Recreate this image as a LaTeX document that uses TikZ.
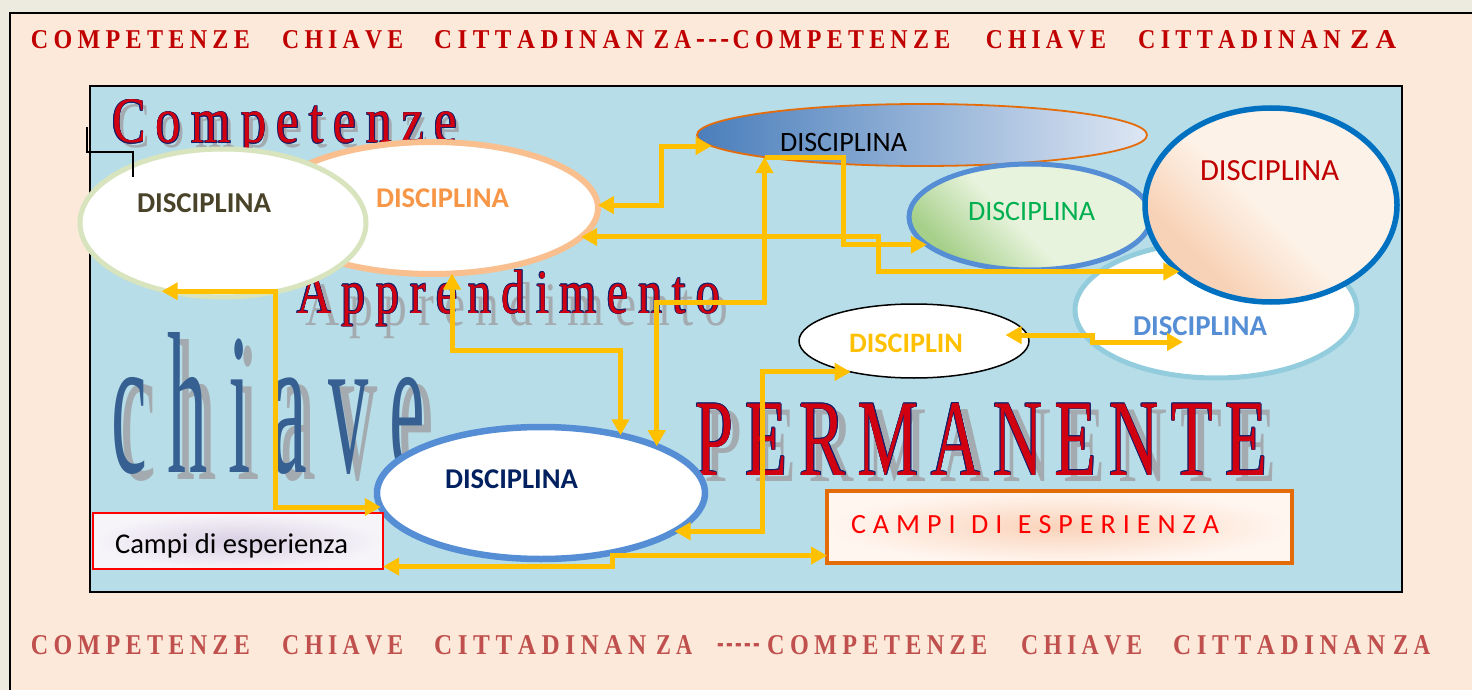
\documentclass[tikz,border=0pt]{standalone}
\usepackage{fontspec}
\usepackage{graphicx}
\usetikzlibrary{arrows.meta,shapes.geometric,calc}
\setmainfont{Liberation Serif}
\newfontfamily\timesf{Liberation Serif}
\newfontfamily\calibri{Carlito}
\definecolor{pagebg}{HTML}{EDEBE0}
\definecolor{peach}{HTML}{FCE9DA}
\definecolor{skyb}{HTML}{B7DDE8}
\definecolor{hdrred}{HTML}{C00000}
\definecolor{ftrred}{HTML}{C0504D}
\definecolor{navy}{HTML}{16206A}
\definecolor{wordred}{HTML}{D00010}
\definecolor{shadowgrey}{HTML}{A3ABB0}
\definecolor{chiaveblue}{HTML}{366092}
\definecolor{yel}{HTML}{FFC000}
\definecolor{Aborder}{HTML}{D7E4BD}
\definecolor{Bborder}{HTML}{F9BF8F}
\definecolor{Cborder}{HTML}{E46C0A}
\definecolor{Dborder}{HTML}{558ED5}
\definecolor{Eborder}{HTML}{0070C0}
\definecolor{Fborder}{HTML}{93CDDD}
\definecolor{Hborder}{HTML}{558ED5}
\definecolor{Atext}{HTML}{494429}
\definecolor{Btext}{HTML}{F79646}
\definecolor{Dtext}{HTML}{00B050}
\definecolor{Etext}{HTML}{C00000}
\definecolor{Ftext}{HTML}{558ED5}
\definecolor{Htext}{HTML}{002060}
\definecolor{brightred}{HTML}{FF0000}
\definecolor{orangeb}{HTML}{E36C09}
\definecolor{Cleft}{HTML}{4A7EBB}
\definecolor{Cmid}{HTML}{A0B6DA}
\definecolor{Cright}{HTML}{DDE6F3}
\definecolor{Dlight}{HTML}{E7F3DC}
\definecolor{Ddark}{HTML}{A6D08A}
\definecolor{Elight}{HTML}{FDF2E8}
\definecolor{Edark}{HTML}{F8D2B6}
\definecolor{Linner}{HTML}{D9D0E4}
\definecolor{Louter}{HTML}{F7F4F9}
\definecolor{Rinner}{HTML}{FAD3BA}
\definecolor{Router}{HTML}{FFF6F0}

\pgfdeclareverticalshading{Dshade}{100bp}{color(0bp)=(Ddark); color(26bp)=(Ddark); color(46bp)=(Dlight); color(100bp)=(Dlight)}
\pgfdeclareverticalshading{Eshade}{100bp}{color(0bp)=(Edark); color(30bp)=(Edark); color(48bp)=(Elight); color(100bp)=(Elight)}

\makeatletter
\newcommand\spreadword[2]{\def\sw@sep{}\@tfor\sw@c:=#2\do{\sw@sep\sw@c\def\sw@sep{\kern#1}}}
\makeatother
\newcommand\bigword[4]{\resizebox{#1}{#2}{\timesf\spreadword{#3}{#4}}}
\newcommand\outlinedword[7]{%
  \node[bigw,text=shadowgrey] (#1-shadow) at (#2+#4,#3+#5) {#6};
  \foreach \ang [count=\k] in {0,45,...,315}{
    \node[bigw,text=navy] (#1-edge\k) at ($(#2,#3)+(\ang:0.75pt)$) {#6};}
  \node[bigw,text=#7] (#1) at (#2,#3) {#6};
}
\newcommand\hdr[6]{\node[hw] (#1) at (#2,#3) {\resizebox{#4pt}{#5pt}{\timesf\bfseries\spreadword{0.22em}{#6}}};}

\tikzset{
  bigw/.style={anchor=base west, inner sep=0pt, outer sep=0pt},
  hw/.style={anchor=base west, inner sep=0pt, text=hdrred},
  ell/.style={ellipse, inner sep=0pt, outer sep=0pt},
  box/.style={rectangle, inner sep=0pt, outer sep=0pt},
  lbl/.style={anchor=base west, inner sep=0pt, outer sep=0pt},
  arrowline/.style={draw=yel, line width=5pt, line join=miter},
  twoway/.style={arrowline, arrows={Triangle[length=16pt,width=17pt]-Triangle[length=16pt,width=17pt]}},
  oneway/.style={arrowline, arrows={-Triangle[length=16pt,width=17pt]}},
}

\begin{document}
\begin{tikzpicture}[x=1pt,y=-1pt]
\useasboundingbox (0,0) rectangle (1472,690);
\clip (0,0) rectangle (1472,690);
\fill[pagebg] (0,0) rectangle (1472,690);
\draw[line width=2pt, fill=peach] (10,13) rectangle (1500,720);

% header line
\hdr{t1}{30.7}{49}{219}{18}{COMPETENZE}
\hdr{t2}{282}{49}{121}{18}{CHIAVE}
\hdr{t3}{434}{49}{210}{18}{CITTADINAN}
\hdr{t4}{653.5}{49}{37.5}{18}{ZA}
\node[hw] (t5) at (696,49) {\resizebox{33pt}{9pt}{\timesf\bfseries\spreadword{0.12em}{---}}};
\hdr{t6}{732.4}{49}{217.6}{18}{COMPETENZE}
\hdr{t7}{985.6}{49}{120.4}{18}{CHIAVE}
\hdr{t8}{1138}{49}{202.5}{18}{CITTADINAN}
\hdr{t9}{1350}{49}{46}{18}{ZA}

% footer line
\begin{scope}[hw/.append style={text=ftrred}]
\hdr{b1}{30.7}{654}{219}{19}{COMPETENZE}
\hdr{b2}{282}{654}{121}{19}{CHIAVE}
\hdr{b3}{434}{654}{212}{19}{CITTADINAN}
\hdr{b4}{656}{654}{36}{19}{ZA}
\node[hw] (b5) at (717,654) {\resizebox{43pt}{11pt}{\timesf\bfseries\spreadword{0.12em}{-----}}};
\hdr{b6}{767}{654}{220}{19}{COMPETENZE}
\hdr{b7}{1021}{654}{121}{19}{CHIAVE}
\hdr{b8}{1173}{654}{212}{19}{CITTADINAN}
\hdr{b9}{1393}{654}{37}{19}{ZA}
\end{scope}

% inner panel
\draw[line width=2pt, fill=skyb] (90,86) rectangle (1402,592);

% big words
\outlinedword{comp}{112}{143}{4}{5}{\bigword{345pt}{43pt}{0.2em}{Competenze}}{wordred}
\outlinedword{appr}{297}{313}{8}{12}{\bigword{423pt}{43pt}{0.22em}{Apprendimento}}{wordred}
\outlinedword{perm}{695}{475}{9}{6}{\bigword{572pt}{72pt}{0.18em}{PERMANENTE}}{wordred}
\node[bigw,text=shadowgrey] (chiave-shadow) at (120,479) {\bigword{314pt}{140pt}{0.26em}{chiave}};
\node[bigw,text=chiaveblue] (chiave) at (111,472) {\bigword{314pt}{140pt}{0.26em}{chiave}};

% ellipses
\node[ell, draw=Bborder, line width=6pt, fill=white, minimum width=332pt, minimum height=132pt] (B) at (432,208) {};
\node[ell, draw=Aborder, line width=5pt, fill=white, minimum width=286pt, minimum height=148pt] (A) at (223,223) {};
\node[ell, draw=Cborder, line width=1.8pt, minimum width=450pt, minimum height=62pt,
      left color=Cleft, middle color=Cmid, right color=Cright] (C) at (922,135) {};
\node[ell, draw=Fborder, line width=5pt, fill=white, minimum width=282pt, minimum height=136pt] (F) at (1216,310) {};
\node[ell, draw=Dborder, line width=5pt, minimum width=242pt, minimum height=106pt,
      shade, shading=Dshade, shading angle=-45] (D) at (1030,217) {};
\node[ell, draw=Eborder, line width=5.5pt, minimum width=252pt, minimum height=194pt,
      shade, shading=Eshade, shading angle=-45] (E) at (1271,205) {};
\node[ell, draw=black, line width=1.5pt, fill=white, minimum width=230pt, minimum height=74pt] (G) at (914,341) {};
\node[ell, draw=Hborder, line width=6.5pt, fill=white, minimum width=328pt, minimum height=132pt] (H) at (541,493) {};

% boxes
\node[box, draw=brightred, line width=2pt, minimum width=290pt, minimum height=56pt,
      inner color=Linner, outer color=Louter] (L) at (238,541) {};
\node[box, draw=orangeb, line width=3.5pt, minimum width=465pt, minimum height=72pt,
      inner color=Rinner, outer color=Router] (R) at (1059.5,527) {};

% labels
\node[lbl, text=Atext] (Atxt) at (137,212) {\resizebox{134pt}{!}{\calibri\bfseries DISCIPLINA}};
\node[lbl, text=Btext] (Btxt) at (376,207) {\resizebox{133pt}{!}{\calibri\bfseries DISCIPLINA}};
\node[lbl, text=black] (Ctxt) at (780,151) {\resizebox{127pt}{!}{\calibri DISCIPLINA}};
\node[lbl, text=Dtext] (Dtxt) at (968,220) {\resizebox{127pt}{!}{\calibri DISCIPLINA}};
\node[lbl, text=Etext] (Etxt) at (1200,180) {\resizebox{139pt}{!}{\calibri DISCIPLINA}};
\node[lbl, text=Ftext] (Ftxt) at (1133,335) {\resizebox{134pt}{!}{\calibri\bfseries DISCIPLINA}};
\node[lbl, text=yel] (Gtxt) at (849,352) {\resizebox{114pt}{!}{\calibri\bfseries DISCIPLIN}};
\node[lbl, text=Htext] (Htxt) at (445,488) {\resizebox{133pt}{!}{\calibri\bfseries DISCIPLINA}};
\node[lbl, text=black] (Ltxt) at (115,553) {\resizebox{233pt}{!}{\calibri Campi di esperienza}};
\node[lbl, text=brightred] (Rtxt) at (851,533) {\resizebox{368pt}{18pt}{\calibri\spreadword{0.25em}{CAMPI}\hspace{0.55em}\spreadword{0.25em}{DI}\hspace{0.55em}\spreadword{0.25em}{ESPERIENZA}}};

% callout remnant
\draw[black, line width=1.2pt] (87,127) |- (133,152) -- (133,177);

% connectors
\coordinate (Fin) at (1183,342);
\draw[twoway] (B.1.7) -| (661,175) |- (C.183.5);
\draw[twoway] (B.-11.2) -| (878,255) |- (E.216.8);
\draw[twoway] (C.188) |- (711,302) -| (H.22.6);
\draw[oneway] (C.188) -| (843,200) |- (D.195.2);
\draw[twoway] (B.287) |- (540,350) -| (H.36.2);
\draw[twoway, shorten <=-6pt] (A.231) -| (275,400) |- (H.185);
\draw[twoway] (L.-10.2) -| (612,560) |- (R.187.2);
\draw[twoway] (H.344.8) -| (762,450) |- (G.206.3);
\draw[twoway, shorten <=-22pt] (G.3.5) -| (1092,338) |- (Fin);
\end{tikzpicture}
\end{document}
